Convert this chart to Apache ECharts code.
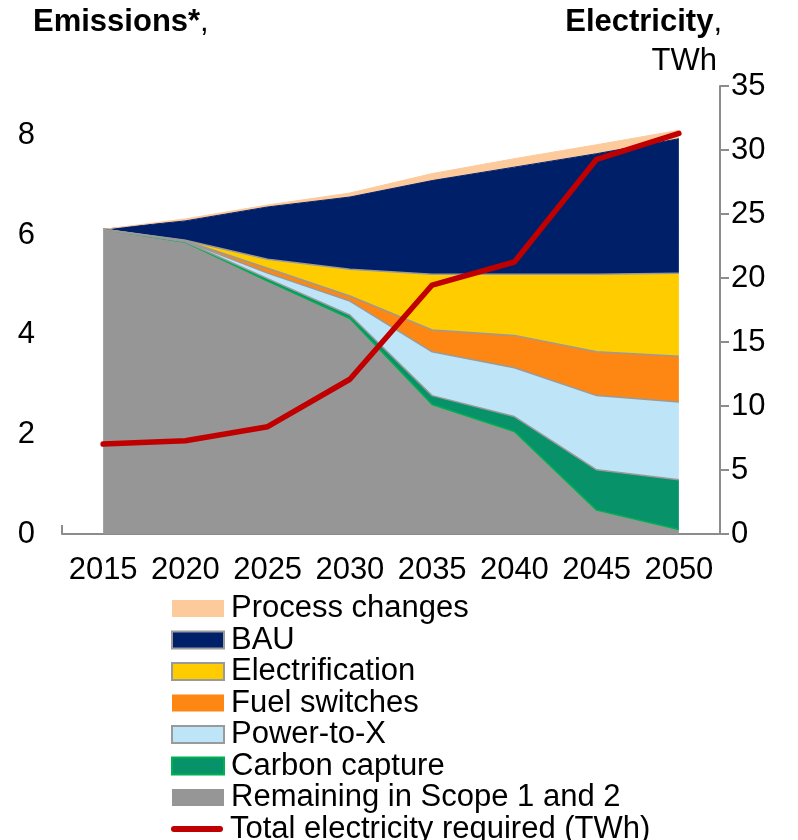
<!DOCTYPE html>
<html>
<head>
<meta charset="utf-8">
<script src="https://cdn.jsdelivr.net/npm/echarts@6/dist/echarts.min.js"></script>
<style>html,body{margin:0;padding:0;background:#fff}#c{width:798px;height:840px}</style>
</head>
<body>
<div id="c"></div>
<script>
var years = ['2015','2020','2025','2030','2035','2040','2045','2050'];
var remaining = [6.12, 5.86, 5.08, 4.33, 2.60, 2.06, 0.48, 0.09];
var carbonCapture = [0, 0.01, 0.05, 0.07, 0.18, 0.30, 0.81, 1.00];
var powerToX = [0, 0.01, 0.11, 0.28, 0.88, 0.98, 1.49, 1.56];
var fuelSwitches = [0, 0.01, 0.10, 0.10, 0.44, 0.65, 0.88, 0.92];
var electrification = [0, 0.01, 0.18, 0.54, 1.12, 1.23, 1.56, 1.67];
var bau = [0, 0.39, 1.05, 1.45, 1.88, 2.15, 2.42, 2.70];
var processChanges = [0, 0.04, 0.04, 0.08, 0.14, 0.17, 0.18, 0.17];
var electricity = [7.03, 7.29, 8.38, 12.09, 19.45, 21.25, 29.27, 31.3];
var leftTicks = [0, 2, 4, 6, 8];
var rightTicks = [0, 5, 10, 15, 20, 25, 30, 35];

var FONT = 'Liberation Sans, Arial, sans-serif';
var FS = 31;
var chart = echarts.init(document.getElementById('c'), null, {renderer: 'canvas'});

function area(name, data, fill, line, lw, legendBorder) {
  return {
    name: name, type: 'line', stack: 'em', data: data, yAxisIndex: 0,
    symbol: 'none', smooth: false,
    lineStyle: {color: line, width: lw},
    areaStyle: {color: fill, opacity: 1},
    itemStyle: {color: fill, borderColor: legendBorder || fill, borderWidth: legendBorder ? 2 : 0},
    emphasis: {disabled: true}
  };
}

var legendCommon = {
  orient: 'vertical', left: 171, padding: 0,
  itemWidth: 52, itemHeight: 17, itemGap: 0.5,
  textStyle: {color: '#000', fontSize: FS, fontFamily: FONT, padding: [0, 0, 0, 2]}
};

var option = {
  animation: false,
  grid: {left: 62, right: 78, top: 86, bottom: 306, containLabel: false},
  xAxis: {
    type: 'category', data: years, boundaryGap: true,
    axisLine: {show: true, lineStyle: {color: '#8c8c8c', width: 2}},
    axisTick: {show: true, inside: true, length: 9, interval: 0, lineStyle: {color: '#8c8c8c', width: 2}},
    axisLabel: {color: '#000', fontSize: FS, fontFamily: FONT, margin: 21, interval: 0}
  },
  yAxis: [{
    type: 'value', min: 0, max: 9, interval: 1,
    axisLine: {show: false}, axisTick: {show: false}, splitLine: {show: false},
    axisLabel: {color: '#000', fontSize: FS, fontFamily: FONT, margin: 27,
      formatter: function (v) { return leftTicks.indexOf(v) >= 0 ? String(v) : ''; }}
  }, {
    type: 'value', min: 0, max: 35, interval: 5, position: 'right',
    axisLine: {show: true, lineStyle: {color: '#8c8c8c', width: 2}},
    axisTick: {show: true, inside: false, length: 9, lineStyle: {color: '#8c8c8c', width: 2}},
    splitLine: {show: false},
    axisLabel: {color: '#000', fontSize: FS, fontFamily: FONT, margin: 11,
      formatter: function (v) { return rightTicks.indexOf(v) >= 0 ? String(v) : ''; }}
  }],
  legend: [
    Object.assign({}, legendCommon, {
      top: 593,
      data: [
        {name: 'Process changes', icon: 'rect'},
        {name: 'BAU', icon: 'rect'},
        {name: 'Electrification', icon: 'rect'},
        {name: 'Fuel switches', icon: 'rect'},
        {name: 'Power-to-X', icon: 'rect'},
        {name: 'Carbon capture', icon: 'rect'},
        {name: 'Remaining in Scope 1 and 2', icon: 'rect'}
      ]
    }),
    Object.assign({}, legendCommon, {
      top: 813.5,
      data: [
        {name: 'Total electricity required (TWh)', icon: 'path://M3,0 L49,0 A3,3 0 0 1 49,6 L3,6 A3,3 0 0 1 3,0 Z'}
      ]
    })
  ],
  series: [
    area('Remaining in Scope 1 and 2', remaining, '#969696', '#00b050', 1.5, null),
    area('Carbon capture', carbonCapture, '#07926a', '#9a9a9a', 1.5, '#00b050'),
    area('Power-to-X', powerToX, '#bde4f7', '#9a9a9a', 1.5, '#9a9a9a'),
    area('Fuel switches', fuelSwitches, '#fd8712', '#9a9a9a', 1.5, null),
    area('Electrification', electrification, '#ffcc00', '#9a9a9a', 1.5, '#9a9a9a'),
    area('BAU', bau, '#001f69', '#001f69', 1, '#9a9a9a'),
    area('Process changes', processChanges, '#fdca9c', '#fdca9c', 1, null),
    {
      name: 'Total electricity required (TWh)', type: 'line', yAxisIndex: 1, data: electricity,
      symbol: 'none', z: 5,
      lineStyle: {color: '#c00000', width: 5.5, cap: 'round', join: 'round'},
      itemStyle: {color: '#c00000'},
      emphasis: {disabled: true}
    }
  ],
  graphic: [
    {type: 'text', left: 33, top: 7, style: {
      rich: {b: {fontWeight: 'bold', fontSize: FS, fontFamily: FONT, fill: '#000'}, n: {fontSize: FS, fontFamily: FONT, fill: '#000'}},
      text: '{b|Emissions*}{n|,}'}},
    {type: 'text', right: 76, top: 7, style: {
      rich: {b: {fontWeight: 'bold', fontSize: FS, fontFamily: FONT, fill: '#000'}, n: {fontSize: FS, fontFamily: FONT, fill: '#000'}},
      text: '{b|Electricity}{n|,}'}},
    {type: 'text', right: 81, top: 46, style: {text: 'TWh', fontSize: FS, fontFamily: FONT, fill: '#000'}}
  ]
};
chart.setOption(option);
</script>
</body>
</html>
